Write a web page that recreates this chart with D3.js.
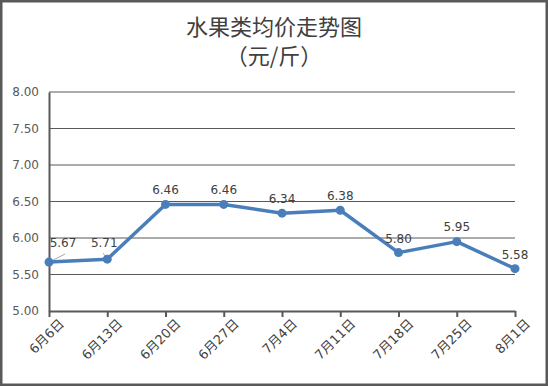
<!DOCTYPE html>
<html lang="zh">
<head>
<meta charset="utf-8">
<script src="https://d3js.org/d3.v7.min.js"></script>
<style>
  body { margin: 0; background: #fff; }
  text { font-family: "DejaVu Sans", "Noto Sans CJK SC", sans-serif; }
</style>
</head>
<body>
<div id="chart"></div>
<script>
// data
var dates = ["6月6日", "6月13日", "6月20日", "6月27日", "7月4日", "7月11日", "7月18日", "7月25日", "8月1日"];
var prices = [5.67, 5.71, 6.46, 6.46, 6.34, 6.38, 5.80, 5.95, 5.58];
var yTicks = [5.0, 5.5, 6.0, 6.5, 7.0, 7.5, 8.0];

var W = 548, H = 386;
var margin = { top: 92, right: 33, bottom: 75, left: 49 };
var width = W - margin.left - margin.right,
    height = H - margin.top - margin.bottom;

var svg = d3.select("#chart").append("svg")
    .attr("width", W)
    .attr("height", H);

// outer frame
svg.append("rect")
    .attr("x", 1).attr("y", 1)
    .attr("width", W - 2).attr("height", H - 2)
    .attr("fill", "#fff")
    .attr("stroke", "#595959")
    .attr("stroke-width", 3);

// title
svg.append("text")
    .attr("x", 274).attr("y", 35)
    .attr("text-anchor", "middle")
    .style("font-family", "'Noto Sans CJK SC'")
    .style("font-size", "22px")
    .style("fill", "#404040")
    .text("水果类均价走势图");
svg.append("text")
    .attr("x", 274).attr("y", 64)
    .attr("text-anchor", "middle")
    .style("font-family", "'Noto Sans CJK SC'")
    .style("font-size", "22px")
    .style("fill", "#404040")
    .text("（元/斤）");

var g = svg.append("g")
    .attr("transform", "translate(" + margin.left + "," + margin.top + ")");

var x = d3.scalePoint()
    .domain(dates)
    .range([0, width]);

var y = d3.scaleLinear()
    .domain([5, 8])
    .range([height, 0]);

// gridlines
g.selectAll(".grid")
    .data(yTicks.slice(1))
    .enter().append("line")
    .attr("x1", 0).attr("x2", width)
    .attr("y1", function (d) { return y(d); })
    .attr("y2", function (d) { return y(d); })
    .attr("stroke", "#595959")
    .attr("stroke-width", 1);

// y axis
var yAxis = g.append("g")
    .call(d3.axisLeft(y).tickValues(yTicks).tickFormat(d3.format(".2f")).tickSize(0).tickPadding(10));
yAxis.select(".domain").attr("stroke", "#595959").attr("stroke-width", 2);
yAxis.selectAll("text").style("font-size", "12px").style("fill", "#595959");

// x axis
var xAxis = g.append("g")
    .attr("transform", "translate(0," + height + ")")
    .call(d3.axisBottom(x).tickSize(6).tickSizeOuter(0).tickPadding(4));
xAxis.select(".domain").attr("stroke", "#595959").attr("stroke-width", 2);
xAxis.selectAll(".tick line").attr("stroke", "#595959").attr("stroke-width", 2);
xAxis.selectAll("text")
    .style("font-size", "13px")
    .style("fill", "#404040")
    .attr("text-anchor", "end")
    .attr("dx", "0.1em")
    .attr("dy", "0.8em")
    .attr("transform", "rotate(-45)");

// line
g.append("path")
    .datum(prices)
    .attr("fill", "none")
    .attr("stroke", "#4a7ebb")
    .attr("stroke-width", 3.5)
    .attr("stroke-linejoin", "round")
    .attr("d", d3.line()
        .x(function (d, i) { return x(dates[i]); })
        .y(function (d) { return y(d); }));

// leader lines for first two labels
var leaders = [[0, 16, -8], [1, -4, -6]];
leaders.forEach(function (l) {
    var px = x(dates[l[0]]), py = y(prices[l[0]]);
    g.append("line")
        .attr("x1", px).attr("y1", py)
        .attr("x2", px + l[1]).attr("y2", py + l[2])
        .attr("stroke", "#a6a6a6")
        .attr("stroke-width", 1);
});

// markers
g.selectAll(".dot")
    .data(prices)
    .enter().append("circle")
    .attr("cx", function (d, i) { return x(dates[i]); })
    .attr("cy", function (d) { return y(d); })
    .attr("r", 4.5)
    .attr("fill", "#4a7ebb");

// labels
var labelOffsets = [[14, -15], [-3, -12], [0, -10], [0, -10], [0, -10], [0, -10], [0, -10], [0, -11], [0, -10]];
g.selectAll(".lbl")
    .data(prices)
    .enter().append("text")
    .attr("x", function (d, i) { return x(dates[i]) + labelOffsets[i][0]; })
    .attr("y", function (d, i) { return y(d) + labelOffsets[i][1]; })
    .attr("text-anchor", "middle")
    .style("font-size", "12px")
    .style("fill", "#404040")
    .text(function (d) { return d.toFixed(2); });
</script>
</body>
</html>
